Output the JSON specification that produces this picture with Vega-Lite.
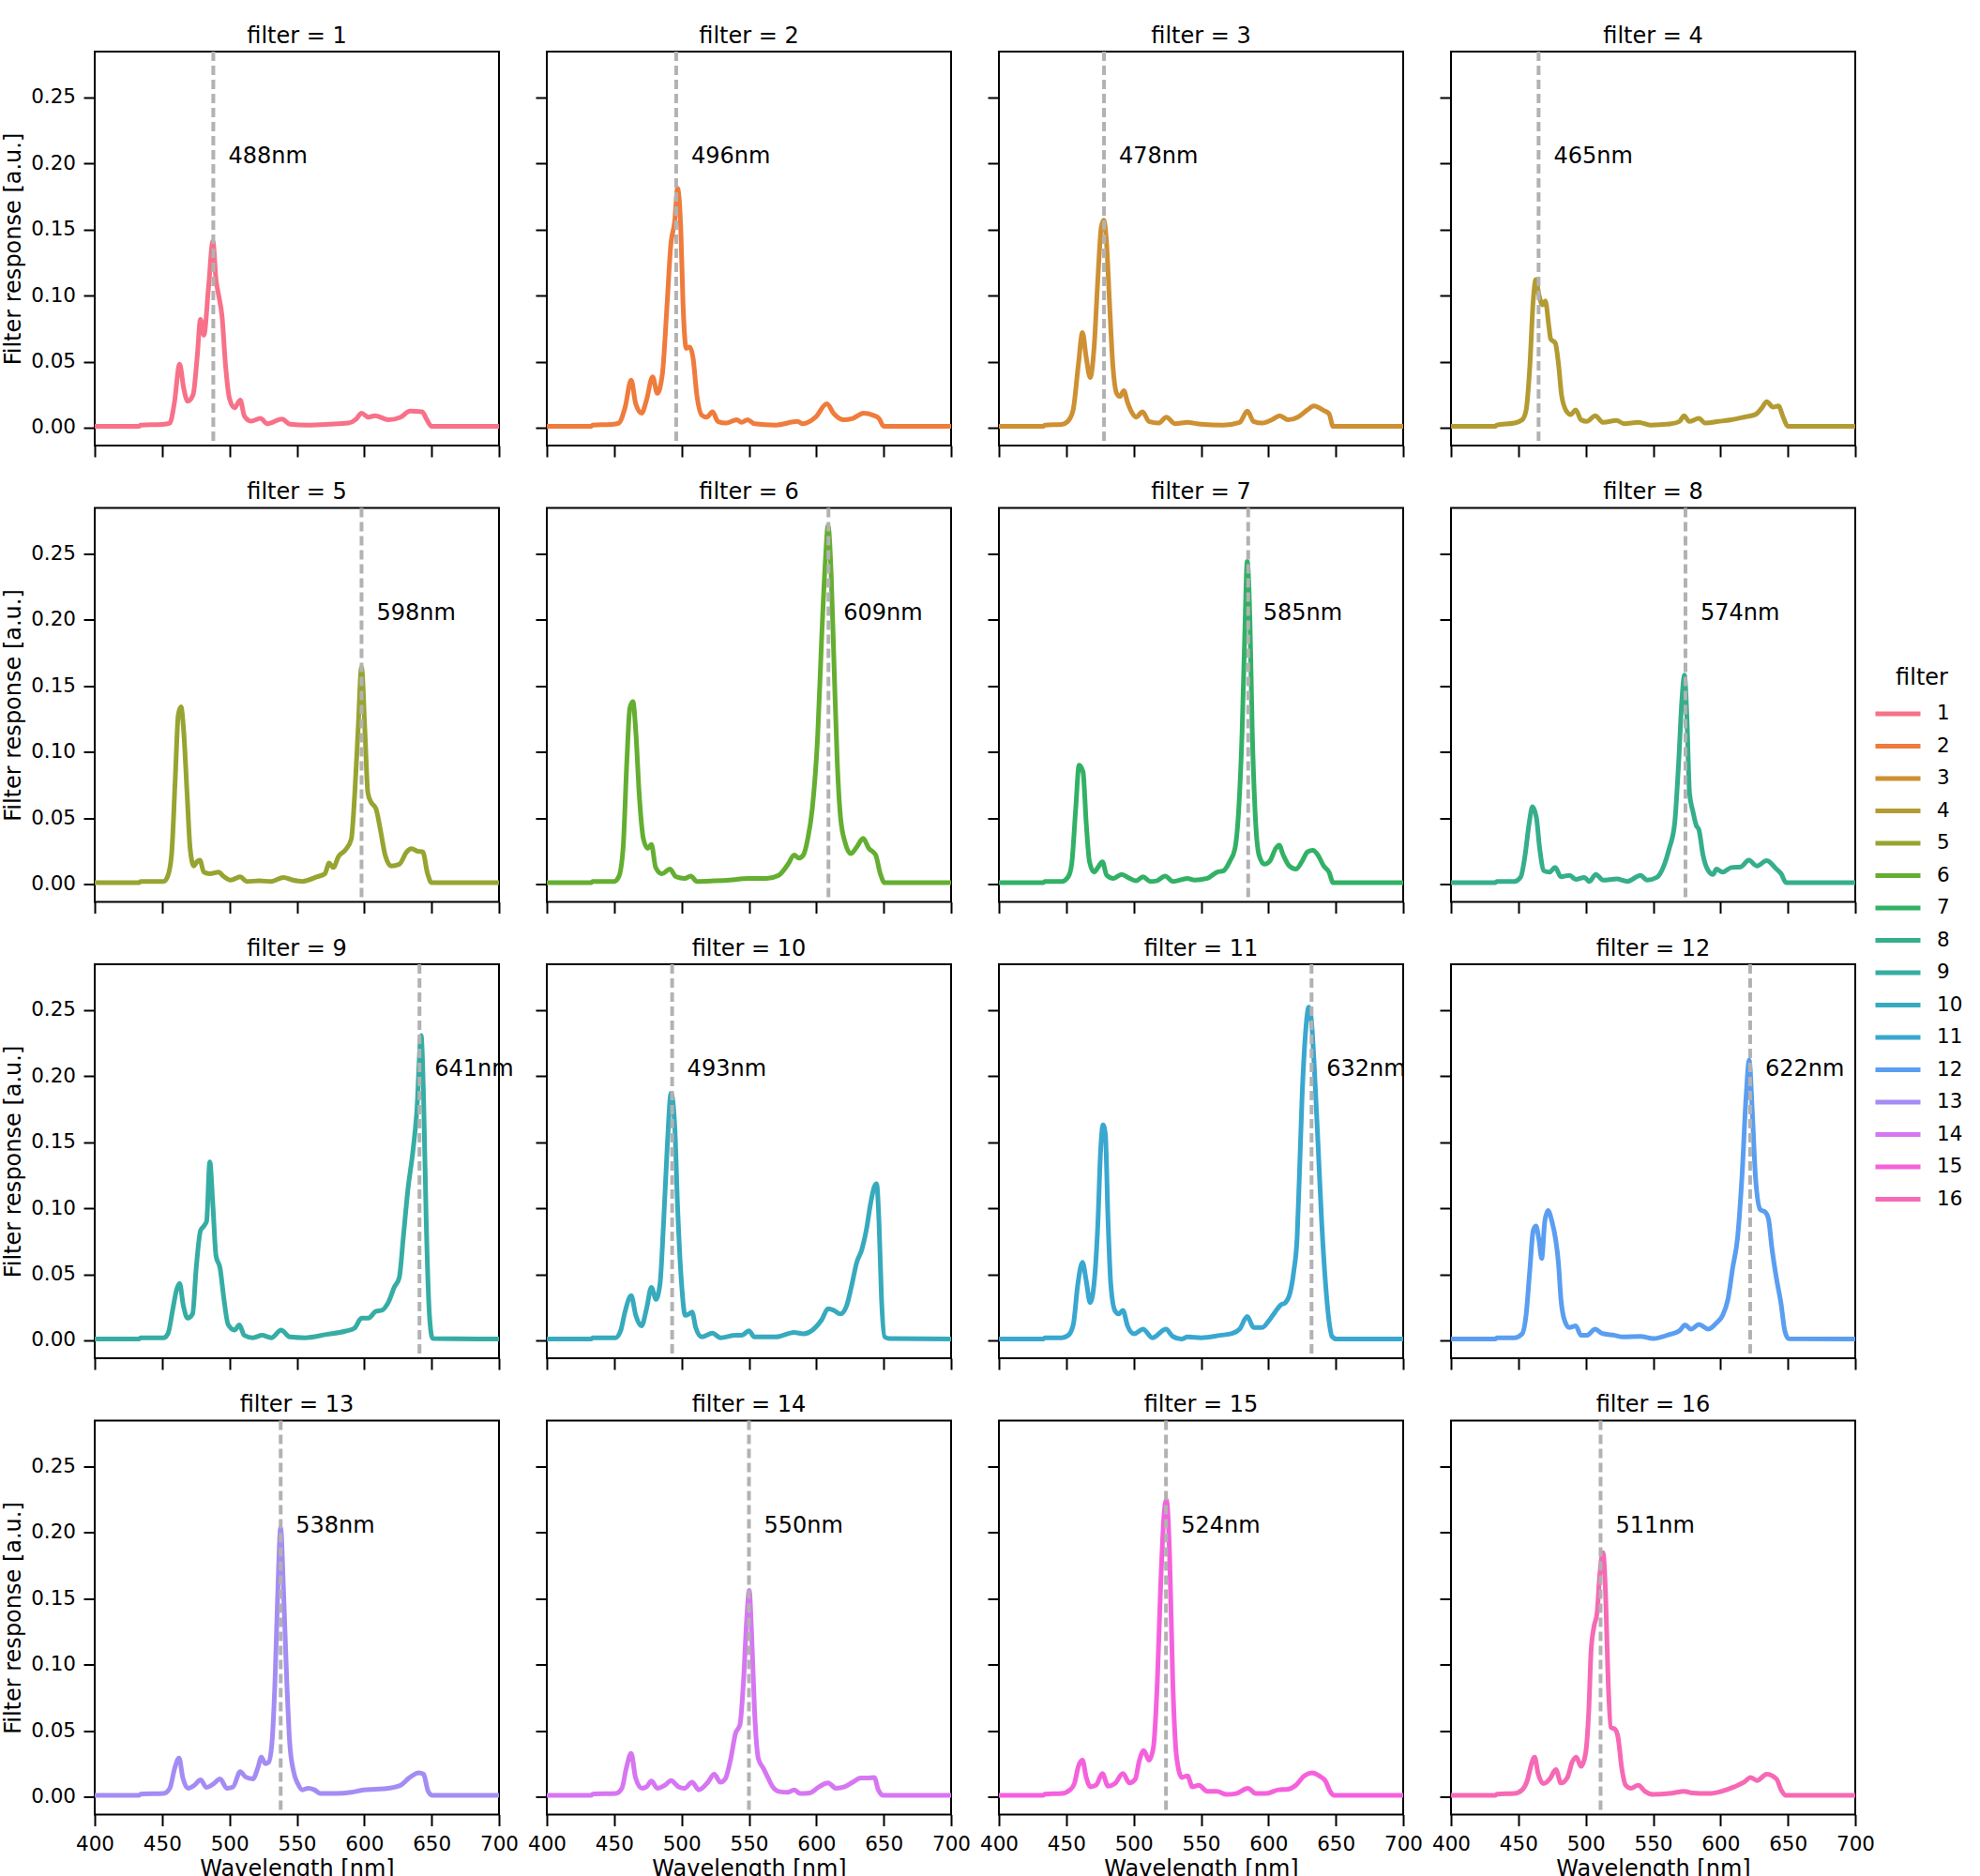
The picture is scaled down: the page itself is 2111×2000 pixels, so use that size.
{
  "$schema": "https://vega.github.io/schema/vega-lite/v6.json",
  "padding": {"left": 1, "top": 25, "right": 5, "bottom": 5},
  "data": {
    "values": [
      {"filter":1,"w":400,"r":0.001},{"filter":1,"w":433,"r":0.001},{"filter":1,"w":434,"r":0.002},{"filter":1,"w":450,"r":0.0025},{"filter":1,"w":455.7,"r":0.0035},{"filter":1,"w":459,"r":0.018},{"filter":1,"w":463,"r":0.048},{"filter":1,"w":466,"r":0.03},{"filter":1,"w":469,"r":0.02},{"filter":1,"w":473,"r":0.025},{"filter":1,"w":476,"r":0.053},{"filter":1,"w":478.5,"r":0.082},{"filter":1,"w":481,"r":0.07},{"filter":1,"w":484.5,"r":0.107},{"filter":1,"w":487.7,"r":0.141},{"filter":1,"w":490,"r":0.112},{"filter":1,"w":492,"r":0.1},{"filter":1,"w":494.5,"r":0.084},{"filter":1,"w":497,"r":0.048},{"filter":1,"w":500,"r":0.022},{"filter":1,"w":503.7,"r":0.015},{"filter":1,"w":508,"r":0.021},{"filter":1,"w":511,"r":0.009},{"filter":1,"w":516,"r":0.005},{"filter":1,"w":523,"r":0.007},{"filter":1,"w":528,"r":0.003},{"filter":1,"w":539,"r":0.0065},{"filter":1,"w":545,"r":0.0026},{"filter":1,"w":558,"r":0.002},{"filter":1,"w":574,"r":0.0026},{"filter":1,"w":588,"r":0.0035},{"filter":1,"w":594,"r":0.0065},{"filter":1,"w":598,"r":0.011},{"filter":1,"w":603,"r":0.008},{"filter":1,"w":608,"r":0.009},{"filter":1,"w":618,"r":0.006},{"filter":1,"w":627,"r":0.008},{"filter":1,"w":634,"r":0.0125},{"filter":1,"w":643,"r":0.012},{"filter":1,"w":646,"r":0.007},{"filter":1,"w":650,"r":0.001},{"filter":1,"w":700,"r":0.001},
      {"filter":2,"w":400,"r":0.001},{"filter":2,"w":433,"r":0.001},{"filter":2,"w":434,"r":0.002},{"filter":2,"w":448,"r":0.0025},{"filter":2,"w":453.4,"r":0.0035},{"filter":2,"w":458,"r":0.015},{"filter":2,"w":462.6,"r":0.036},{"filter":2,"w":466,"r":0.018},{"filter":2,"w":470.3,"r":0.011},{"filter":2,"w":474,"r":0.021},{"filter":2,"w":478.5,"r":0.0385},{"filter":2,"w":482,"r":0.026},{"filter":2,"w":485.8,"r":0.041},{"filter":2,"w":489,"r":0.089},{"filter":2,"w":492,"r":0.138},{"filter":2,"w":495,"r":0.157},{"filter":2,"w":497,"r":0.181},{"filter":2,"w":499.5,"r":0.148},{"filter":2,"w":501,"r":0.096},{"filter":2,"w":503.5,"r":0.06},{"filter":2,"w":506,"r":0.061},{"filter":2,"w":508.5,"r":0.053},{"filter":2,"w":511.3,"r":0.025},{"filter":2,"w":515,"r":0.0095},{"filter":2,"w":518.6,"r":0.008},{"filter":2,"w":523,"r":0.012},{"filter":2,"w":527,"r":0.0047},{"filter":2,"w":533,"r":0.0035},{"filter":2,"w":541,"r":0.006},{"filter":2,"w":544.5,"r":0.004},{"filter":2,"w":549,"r":0.006},{"filter":2,"w":554,"r":0.003},{"filter":2,"w":570,"r":0.002},{"filter":2,"w":586,"r":0.0047},{"filter":2,"w":590,"r":0.003},{"filter":2,"w":599.5,"r":0.008},{"filter":2,"w":607.8,"r":0.018},{"filter":2,"w":613,"r":0.0106},{"filter":2,"w":620,"r":0.006},{"filter":2,"w":627,"r":0.007},{"filter":2,"w":635,"r":0.011},{"filter":2,"w":642,"r":0.0095},{"filter":2,"w":646.5,"r":0.007},{"filter":2,"w":650,"r":0.001},{"filter":2,"w":700,"r":0.001},
      {"filter":3,"w":400,"r":0.001},{"filter":3,"w":433,"r":0.001},{"filter":3,"w":434,"r":0.002},{"filter":3,"w":446.6,"r":0.0025},{"filter":3,"w":451,"r":0.0047},{"filter":3,"w":455,"r":0.013},{"filter":3,"w":459,"r":0.048},{"filter":3,"w":462,"r":0.072},{"filter":3,"w":464.8,"r":0.053},{"filter":3,"w":467.7,"r":0.038},{"filter":3,"w":470.6,"r":0.06},{"filter":3,"w":473.5,"r":0.114},{"filter":3,"w":476,"r":0.152},{"filter":3,"w":477.8,"r":0.157},{"filter":3,"w":480,"r":0.138},{"filter":3,"w":482,"r":0.096},{"filter":3,"w":484.5,"r":0.048},{"filter":3,"w":487.4,"r":0.026},{"filter":3,"w":489.8,"r":0.0236},{"filter":3,"w":492.7,"r":0.028},{"filter":3,"w":495.5,"r":0.019},{"filter":3,"w":498.4,"r":0.012},{"filter":3,"w":501.8,"r":0.008},{"filter":3,"w":506.6,"r":0.012},{"filter":3,"w":511.4,"r":0.0047},{"filter":3,"w":518.6,"r":0.0035},{"filter":3,"w":524.3,"r":0.008},{"filter":3,"w":530.6,"r":0.003},{"filter":3,"w":540,"r":0.004},{"filter":3,"w":550,"r":0.0026},{"filter":3,"w":566.6,"r":0.002},{"filter":3,"w":578.6,"r":0.004},{"filter":3,"w":584.4,"r":0.0125},{"filter":3,"w":589,"r":0.0047},{"filter":3,"w":595.4,"r":0.0035},{"filter":3,"w":602.6,"r":0.006},{"filter":3,"w":608.4,"r":0.009},{"filter":3,"w":614.6,"r":0.006},{"filter":3,"w":621.8,"r":0.008},{"filter":3,"w":629,"r":0.0135},{"filter":3,"w":633.8,"r":0.0165},{"filter":3,"w":641,"r":0.013},{"filter":3,"w":645,"r":0.0106},{"filter":3,"w":648,"r":0.001},{"filter":3,"w":700,"r":0.001},
      {"filter":4,"w":400,"r":0.001},{"filter":4,"w":433,"r":0.001},{"filter":4,"w":434,"r":0.002},{"filter":4,"w":447,"r":0.0035},{"filter":4,"w":452.8,"r":0.006},{"filter":4,"w":455.7,"r":0.013},{"filter":4,"w":458.6,"r":0.048},{"filter":4,"w":461,"r":0.096},{"filter":4,"w":463,"r":0.112},{"filter":4,"w":465.4,"r":0.1},{"filter":4,"w":467.8,"r":0.093},{"filter":4,"w":470,"r":0.096},{"filter":4,"w":472.6,"r":0.077},{"filter":4,"w":474,"r":0.067},{"filter":4,"w":477.4,"r":0.064},{"filter":4,"w":479.8,"r":0.048},{"filter":4,"w":482,"r":0.025},{"filter":4,"w":485.4,"r":0.013},{"filter":4,"w":488.8,"r":0.01},{"filter":4,"w":492.6,"r":0.0135},{"filter":4,"w":496.5,"r":0.006},{"filter":4,"w":500.8,"r":0.0047},{"filter":4,"w":507,"r":0.009},{"filter":4,"w":513,"r":0.004},{"filter":4,"w":522.8,"r":0.0055},{"filter":4,"w":528.5,"r":0.003},{"filter":4,"w":539,"r":0.004},{"filter":4,"w":548,"r":0.002},{"filter":4,"w":562.4,"r":0.0028},{"filter":4,"w":569.5,"r":0.0047},{"filter":4,"w":573,"r":0.009},{"filter":4,"w":576.8,"r":0.0047},{"filter":4,"w":584,"r":0.007},{"filter":4,"w":588.7,"r":0.0035},{"filter":4,"w":598.4,"r":0.0047},{"filter":4,"w":608,"r":0.006},{"filter":4,"w":617.5,"r":0.008},{"filter":4,"w":626,"r":0.01},{"filter":4,"w":630.7,"r":0.015},{"filter":4,"w":634.3,"r":0.0196},{"filter":4,"w":639,"r":0.0156},{"filter":4,"w":643,"r":0.0165},{"filter":4,"w":646.5,"r":0.008},{"filter":4,"w":650,"r":0.001},{"filter":4,"w":700,"r":0.001},
      {"filter":5,"w":400,"r":0.001},{"filter":5,"w":433,"r":0.001},{"filter":5,"w":434,"r":0.002},{"filter":5,"w":451,"r":0.002},{"filter":5,"w":454,"r":0.0055},{"filter":5,"w":457,"r":0.022},{"filter":5,"w":459.8,"r":0.081},{"filter":5,"w":462,"r":0.128},{"filter":5,"w":464,"r":0.134},{"filter":5,"w":466,"r":0.116},{"filter":5,"w":468.5,"r":0.069},{"filter":5,"w":470.8,"r":0.027},{"filter":5,"w":473.5,"r":0.0137},{"filter":5,"w":476,"r":0.017},{"filter":5,"w":478,"r":0.018},{"filter":5,"w":481,"r":0.009},{"filter":5,"w":485.4,"r":0.0078},{"filter":5,"w":492,"r":0.009},{"filter":5,"w":495.4,"r":0.006},{"filter":5,"w":501,"r":0.003},{"filter":5,"w":508,"r":0.0055},{"filter":5,"w":512.8,"r":0.002},{"filter":5,"w":522,"r":0.0024},{"filter":5,"w":531,"r":0.002},{"filter":5,"w":540,"r":0.005},{"filter":5,"w":547,"r":0.003},{"filter":5,"w":554,"r":0.002},{"filter":5,"w":565,"r":0.0055},{"filter":5,"w":570.8,"r":0.0078},{"filter":5,"w":574,"r":0.016},{"filter":5,"w":577,"r":0.0125},{"filter":5,"w":581,"r":0.021},{"filter":5,"w":585.8,"r":0.0255},{"filter":5,"w":590.4,"r":0.034},{"filter":5,"w":593,"r":0.069},{"filter":5,"w":595.4,"r":0.116},{"filter":5,"w":598,"r":0.164},{"filter":5,"w":600.5,"r":0.116},{"filter":5,"w":602.7,"r":0.069},{"filter":5,"w":605,"r":0.062},{"filter":5,"w":608.7,"r":0.057},{"filter":5,"w":612,"r":0.041},{"filter":5,"w":615.5,"r":0.022},{"filter":5,"w":620,"r":0.0137},{"filter":5,"w":626,"r":0.015},{"filter":5,"w":631.5,"r":0.0243},{"filter":5,"w":635,"r":0.0267},{"filter":5,"w":639.7,"r":0.0248},{"filter":5,"w":643.4,"r":0.0243},{"filter":5,"w":647,"r":0.0078},{"filter":5,"w":650,"r":0.001},{"filter":5,"w":700,"r":0.001},
      {"filter":6,"w":400,"r":0.001},{"filter":6,"w":433,"r":0.001},{"filter":6,"w":434,"r":0.002},{"filter":6,"w":450,"r":0.002},{"filter":6,"w":453.4,"r":0.0055},{"filter":6,"w":456.6,"r":0.027},{"filter":6,"w":459.4,"r":0.093},{"filter":6,"w":461.6,"r":0.133},{"filter":6,"w":463.9,"r":0.138},{"filter":6,"w":466,"r":0.116},{"filter":6,"w":468.5,"r":0.069},{"filter":6,"w":471.7,"r":0.034},{"filter":6,"w":474.9,"r":0.027},{"filter":6,"w":477.6,"r":0.03},{"filter":6,"w":480.8,"r":0.0125},{"filter":6,"w":485.4,"r":0.0078},{"filter":6,"w":491.3,"r":0.0113},{"filter":6,"w":495.9,"r":0.0055},{"filter":6,"w":502.3,"r":0.0043},{"filter":6,"w":506.8,"r":0.006},{"filter":6,"w":511.4,"r":0.002},{"filter":6,"w":524,"r":0.0024},{"filter":6,"w":535.6,"r":0.003},{"filter":6,"w":549.3,"r":0.0043},{"filter":6,"w":563,"r":0.0043},{"filter":6,"w":572,"r":0.0066},{"filter":6,"w":579,"r":0.015},{"filter":6,"w":583.6,"r":0.022},{"filter":6,"w":587,"r":0.0196},{"filter":6,"w":590.4,"r":0.022},{"filter":6,"w":593.6,"r":0.034},{"filter":6,"w":597,"r":0.057},{"filter":6,"w":601,"r":0.112},{"filter":6,"w":604,"r":0.187},{"filter":6,"w":606.8,"r":0.246},{"filter":6,"w":608.7,"r":0.271},{"filter":6,"w":611,"r":0.235},{"filter":6,"w":613.2,"r":0.164},{"filter":6,"w":615.5,"r":0.093},{"filter":6,"w":618,"r":0.05},{"filter":6,"w":621.5,"r":0.031},{"filter":6,"w":625.6,"r":0.023},{"filter":6,"w":630,"r":0.028},{"filter":6,"w":634.7,"r":0.0345},{"filter":6,"w":639,"r":0.027},{"filter":6,"w":644,"r":0.022},{"filter":6,"w":647.5,"r":0.0078},{"filter":6,"w":650.7,"r":0.001},{"filter":6,"w":700,"r":0.001},
      {"filter":7,"w":400,"r":0.001},{"filter":7,"w":433,"r":0.001},{"filter":7,"w":434,"r":0.002},{"filter":7,"w":446.6,"r":0.002},{"filter":7,"w":451.4,"r":0.0055},{"filter":7,"w":454,"r":0.015},{"filter":7,"w":457,"r":0.057},{"filter":7,"w":459.5,"r":0.09},{"filter":7,"w":462.4,"r":0.085},{"filter":7,"w":464.8,"r":0.046},{"filter":7,"w":467.2,"r":0.017},{"filter":7,"w":470.6,"r":0.009},{"filter":7,"w":473.4,"r":0.0125},{"filter":7,"w":476.8,"r":0.0168},{"filter":7,"w":480,"r":0.0066},{"filter":7,"w":485,"r":0.0043},{"filter":7,"w":491,"r":0.0073},{"filter":7,"w":497,"r":0.0043},{"filter":7,"w":501.8,"r":0.0024},{"filter":7,"w":507,"r":0.0055},{"filter":7,"w":512.3,"r":0.002},{"filter":7,"w":517,"r":0.0024},{"filter":7,"w":523.4,"r":0.006},{"filter":7,"w":529,"r":0.002},{"filter":7,"w":540,"r":0.0043},{"filter":7,"w":545,"r":0.003},{"filter":7,"w":554.6,"r":0.0043},{"filter":7,"w":561.8,"r":0.009},{"filter":7,"w":566.6,"r":0.01},{"filter":7,"w":571.4,"r":0.0173},{"filter":7,"w":575.2,"r":0.027},{"filter":7,"w":578,"r":0.057},{"filter":7,"w":580.5,"r":0.116},{"filter":7,"w":582.4,"r":0.187},{"filter":7,"w":584.3,"r":0.244},{"filter":7,"w":586.3,"r":0.199},{"filter":7,"w":588,"r":0.116},{"filter":7,"w":590,"r":0.057},{"filter":7,"w":593,"r":0.022},{"filter":7,"w":597,"r":0.015},{"filter":7,"w":601,"r":0.0173},{"filter":7,"w":605.5,"r":0.027},{"filter":7,"w":607.9,"r":0.0295},{"filter":7,"w":611,"r":0.022},{"filter":7,"w":615.5,"r":0.0137},{"filter":7,"w":620.4,"r":0.0113},{"filter":7,"w":625,"r":0.0173},{"filter":7,"w":629,"r":0.0243},{"filter":7,"w":633,"r":0.0255},{"filter":7,"w":636.7,"r":0.022},{"filter":7,"w":641,"r":0.0137},{"filter":7,"w":645,"r":0.009},{"filter":7,"w":648,"r":0.001},{"filter":7,"w":700,"r":0.001},
      {"filter":8,"w":400,"r":0.001},{"filter":8,"w":433,"r":0.001},{"filter":8,"w":434,"r":0.002},{"filter":8,"w":447,"r":0.002},{"filter":8,"w":451.8,"r":0.0055},{"filter":8,"w":455,"r":0.022},{"filter":8,"w":458,"r":0.046},{"filter":8,"w":460.5,"r":0.0586},{"filter":8,"w":463.4,"r":0.05},{"filter":8,"w":465.8,"r":0.027},{"filter":8,"w":469,"r":0.01},{"filter":8,"w":473,"r":0.009},{"filter":8,"w":477.3,"r":0.0125},{"filter":8,"w":481.6,"r":0.0055},{"filter":8,"w":488,"r":0.0066},{"filter":8,"w":492.6,"r":0.0035},{"filter":8,"w":499,"r":0.005},{"filter":8,"w":502.7,"r":0.002},{"filter":8,"w":507.5,"r":0.0073},{"filter":8,"w":512.8,"r":0.003},{"filter":8,"w":523,"r":0.0038},{"filter":8,"w":531,"r":0.002},{"filter":8,"w":540.6,"r":0.0066},{"filter":8,"w":545.5,"r":0.003},{"filter":8,"w":552.7,"r":0.005},{"filter":8,"w":558.4,"r":0.015},{"filter":8,"w":562,"r":0.027},{"filter":8,"w":566,"r":0.046},{"filter":8,"w":569,"r":0.093},{"filter":8,"w":571.4,"r":0.14},{"filter":8,"w":573.3,"r":0.158},{"filter":8,"w":575,"r":0.128},{"filter":8,"w":577,"r":0.069},{"filter":8,"w":579.5,"r":0.055},{"filter":8,"w":582,"r":0.0444},{"filter":8,"w":584,"r":0.041},{"filter":8,"w":587,"r":0.022},{"filter":8,"w":591,"r":0.01},{"filter":8,"w":594.4,"r":0.0073},{"filter":8,"w":597,"r":0.0113},{"filter":8,"w":601.6,"r":0.009},{"filter":8,"w":608,"r":0.0125},{"filter":8,"w":615,"r":0.013},{"filter":8,"w":621,"r":0.018},{"filter":8,"w":627,"r":0.0137},{"filter":8,"w":634.3,"r":0.0177},{"filter":8,"w":641.5,"r":0.0113},{"filter":8,"w":645,"r":0.0078},{"filter":8,"w":648.7,"r":0.001},{"filter":8,"w":700,"r":0.001},
      {"filter":9,"w":400,"r":0.001},{"filter":9,"w":433,"r":0.001},{"filter":9,"w":434,"r":0.002},{"filter":9,"w":451,"r":0.002},{"filter":9,"w":454.3,"r":0.005},{"filter":9,"w":458,"r":0.024},{"filter":9,"w":460.7,"r":0.038},{"filter":9,"w":463,"r":0.043},{"filter":9,"w":465.8,"r":0.026},{"filter":9,"w":469,"r":0.0168},{"filter":9,"w":472.6,"r":0.02},{"filter":9,"w":475.3,"r":0.0546},{"filter":9,"w":478.5,"r":0.083},{"filter":9,"w":481,"r":0.0865},{"filter":9,"w":483,"r":0.09},{"filter":9,"w":485.4,"r":0.135},{"filter":9,"w":487.7,"r":0.102},{"filter":9,"w":490,"r":0.064},{"filter":9,"w":493,"r":0.0546},{"filter":9,"w":495.9,"r":0.031},{"filter":9,"w":499,"r":0.012},{"filter":9,"w":503.7,"r":0.0078},{"filter":9,"w":507.3,"r":0.0116},{"filter":9,"w":511,"r":0.0038},{"filter":9,"w":517.4,"r":0.002},{"filter":9,"w":524.2,"r":0.0038},{"filter":9,"w":531,"r":0.002},{"filter":9,"w":538.4,"r":0.0078},{"filter":9,"w":544.7,"r":0.0026},{"filter":9,"w":556,"r":0.002},{"filter":9,"w":572,"r":0.0045},{"filter":9,"w":585.8,"r":0.0069},{"filter":9,"w":592.7,"r":0.0092},{"filter":9,"w":598,"r":0.0168},{"filter":9,"w":603,"r":0.0168},{"filter":9,"w":608.7,"r":0.022},{"filter":9,"w":613,"r":0.0227},{"filter":9,"w":617.8,"r":0.0286},{"filter":9,"w":622.4,"r":0.0404},{"filter":9,"w":626,"r":0.0475},{"filter":9,"w":629,"r":0.078},{"filter":9,"w":632.4,"r":0.114},{"filter":9,"w":636,"r":0.142},{"filter":9,"w":639,"r":0.173},{"filter":9,"w":642.2,"r":0.2306},{"filter":9,"w":644,"r":0.185},{"filter":9,"w":646,"r":0.09},{"filter":9,"w":648.4,"r":0.019},{"filter":9,"w":650.7,"r":0.0014},{"filter":9,"w":700,"r":0.001},
      {"filter":10,"w":400,"r":0.001},{"filter":10,"w":433,"r":0.001},{"filter":10,"w":434,"r":0.002},{"filter":10,"w":451,"r":0.002},{"filter":10,"w":454.8,"r":0.0073},{"filter":10,"w":458,"r":0.0215},{"filter":10,"w":462.6,"r":0.0338},{"filter":10,"w":466,"r":0.019},{"filter":10,"w":470.3,"r":0.0109},{"filter":10,"w":474,"r":0.0239},{"filter":10,"w":477.6,"r":0.04},{"filter":10,"w":481,"r":0.031},{"filter":10,"w":484,"r":0.0428},{"filter":10,"w":486.7,"r":0.09},{"filter":10,"w":489.5,"r":0.149},{"filter":10,"w":492.2,"r":0.187},{"filter":10,"w":495,"r":0.161},{"filter":10,"w":497,"r":0.102},{"filter":10,"w":500,"r":0.0428},{"filter":10,"w":502.7,"r":0.019},{"filter":10,"w":505.5,"r":0.02},{"filter":10,"w":507.8,"r":0.0215},{"filter":10,"w":510.5,"r":0.0097},{"filter":10,"w":515,"r":0.0026},{"filter":10,"w":523,"r":0.0054},{"filter":10,"w":528.8,"r":0.002},{"filter":10,"w":540,"r":0.0038},{"filter":10,"w":544.7,"r":0.0038},{"filter":10,"w":550,"r":0.0073},{"filter":10,"w":554,"r":0.0026},{"filter":10,"w":570,"r":0.0026},{"filter":10,"w":583.5,"r":0.006},{"filter":10,"w":590.4,"r":0.005},{"filter":10,"w":598,"r":0.0085},{"filter":10,"w":604,"r":0.0156},{"filter":10,"w":608.7,"r":0.0239},{"filter":10,"w":613,"r":0.0227},{"filter":10,"w":617.8,"r":0.02},{"filter":10,"w":622.4,"r":0.026},{"filter":10,"w":626,"r":0.0404},{"filter":10,"w":630,"r":0.059},{"filter":10,"w":633.8,"r":0.0688},{"filter":10,"w":637.4,"r":0.085},{"filter":10,"w":640,"r":0.102},{"filter":10,"w":643,"r":0.116},{"filter":10,"w":644.7,"r":0.1184},{"filter":10,"w":646.5,"r":0.09},{"filter":10,"w":648.4,"r":0.031},{"filter":10,"w":650.7,"r":0.0026},{"filter":10,"w":654,"r":0.0014},{"filter":10,"w":700,"r":0.001},
      {"filter":11,"w":400,"r":0.001},{"filter":11,"w":433,"r":0.001},{"filter":11,"w":434,"r":0.002},{"filter":11,"w":446.6,"r":0.002},{"filter":11,"w":451.4,"r":0.0038},{"filter":11,"w":455.2,"r":0.012},{"filter":11,"w":458.6,"r":0.0428},{"filter":11,"w":462,"r":0.059},{"filter":11,"w":464.8,"r":0.045},{"filter":11,"w":467.7,"r":0.0286},{"filter":11,"w":470.6,"r":0.0428},{"filter":11,"w":473.5,"r":0.09},{"filter":11,"w":475.4,"r":0.142},{"filter":11,"w":477.3,"r":0.163},{"filter":11,"w":479,"r":0.156},{"filter":11,"w":481,"r":0.09},{"filter":11,"w":483,"r":0.0428},{"filter":11,"w":486,"r":0.0227},{"filter":11,"w":488.8,"r":0.02},{"filter":11,"w":492,"r":0.0227},{"filter":11,"w":495.5,"r":0.0109},{"filter":11,"w":500.3,"r":0.005},{"filter":11,"w":507,"r":0.0085},{"filter":11,"w":513.8,"r":0.002},{"filter":11,"w":524,"r":0.0085},{"filter":11,"w":529,"r":0.003},{"filter":11,"w":535.4,"r":0.001},{"filter":11,"w":540,"r":0.0026},{"filter":11,"w":550,"r":0.002},{"filter":11,"w":564,"r":0.0038},{"filter":11,"w":573.5,"r":0.0054},{"filter":11,"w":578.6,"r":0.0085},{"filter":11,"w":584.3,"r":0.018},{"filter":11,"w":589,"r":0.0097},{"filter":11,"w":595.4,"r":0.0097},{"filter":11,"w":600,"r":0.0144},{"filter":11,"w":605,"r":0.0215},{"filter":11,"w":609,"r":0.0267},{"filter":11,"w":612.6,"r":0.0286},{"filter":11,"w":616,"r":0.0357},{"filter":11,"w":618.8,"r":0.052},{"filter":11,"w":621.3,"r":0.078},{"filter":11,"w":623,"r":0.125},{"filter":11,"w":625,"r":0.1845},{"filter":11,"w":627.5,"r":0.232},{"filter":11,"w":630,"r":0.252},{"filter":11,"w":632,"r":0.241},{"filter":11,"w":634,"r":0.208},{"filter":11,"w":636.8,"r":0.149},{"filter":11,"w":639.5,"r":0.09},{"filter":11,"w":642.4,"r":0.0428},{"filter":11,"w":645,"r":0.0144},{"filter":11,"w":647.2,"r":0.003},{"filter":11,"w":650.6,"r":0.001},{"filter":11,"w":700,"r":0.001},
      {"filter":12,"w":400,"r":0.001},{"filter":12,"w":433,"r":0.001},{"filter":12,"w":434,"r":0.002},{"filter":12,"w":447,"r":0.002},{"filter":12,"w":452.8,"r":0.005},{"filter":12,"w":455.7,"r":0.019},{"filter":12,"w":458.6,"r":0.0546},{"filter":12,"w":461,"r":0.083},{"filter":12,"w":463,"r":0.0865},{"filter":12,"w":465.3,"r":0.076},{"filter":12,"w":467.3,"r":0.062},{"filter":12,"w":469.6,"r":0.09},{"filter":12,"w":472,"r":0.0983},{"filter":12,"w":474.9,"r":0.09},{"filter":12,"w":477.7,"r":0.076},{"filter":12,"w":479.7,"r":0.059},{"filter":12,"w":481.6,"r":0.031},{"filter":12,"w":484.5,"r":0.0144},{"filter":12,"w":487.8,"r":0.0097},{"filter":12,"w":492.6,"r":0.0109},{"filter":12,"w":496.5,"r":0.0038},{"filter":12,"w":500.8,"r":0.0038},{"filter":12,"w":507,"r":0.0085},{"filter":12,"w":511.8,"r":0.0054},{"filter":12,"w":521.4,"r":0.0038},{"filter":12,"w":527.6,"r":0.0026},{"filter":12,"w":540.6,"r":0.003},{"filter":12,"w":550.2,"r":0.0014},{"filter":12,"w":562.2,"r":0.0045},{"filter":12,"w":569.5,"r":0.0073},{"filter":12,"w":573.8,"r":0.0116},{"filter":12,"w":578,"r":0.0085},{"filter":12,"w":584,"r":0.012},{"filter":12,"w":591,"r":0.0085},{"filter":12,"w":597,"r":0.0132},{"filter":12,"w":601.6,"r":0.019},{"filter":12,"w":605.5,"r":0.031},{"filter":12,"w":609,"r":0.0546},{"filter":12,"w":612.7,"r":0.078},{"filter":12,"w":616,"r":0.125},{"filter":12,"w":619,"r":0.1845},{"filter":12,"w":621.3,"r":0.212},{"filter":12,"w":623.6,"r":0.173},{"filter":12,"w":626,"r":0.123},{"filter":12,"w":629.5,"r":0.099},{"filter":12,"w":633.3,"r":0.097},{"filter":12,"w":635.6,"r":0.092},{"filter":12,"w":638,"r":0.071},{"filter":12,"w":641.4,"r":0.0475},{"filter":12,"w":644.8,"r":0.0286},{"filter":12,"w":647.7,"r":0.0073},{"filter":12,"w":650.6,"r":0.0012},{"filter":12,"w":700,"r":0.001},
      {"filter":13,"w":400,"r":0.001},{"filter":13,"w":433,"r":0.001},{"filter":13,"w":434,"r":0.002},{"filter":13,"w":451,"r":0.0024},{"filter":13,"w":455.7,"r":0.0064},{"filter":13,"w":459.4,"r":0.0217},{"filter":13,"w":462.6,"r":0.0293},{"filter":13,"w":465.3,"r":0.0146},{"filter":13,"w":469.4,"r":0.0064},{"filter":13,"w":474,"r":0.0087},{"filter":13,"w":478.5,"r":0.0127},{"filter":13,"w":483,"r":0.007},{"filter":13,"w":487.7,"r":0.0094},{"filter":13,"w":493,"r":0.0135},{"filter":13,"w":498,"r":0.0064},{"filter":13,"w":502.7,"r":0.0075},{"filter":13,"w":508,"r":0.019},{"filter":13,"w":511.9,"r":0.015},{"filter":13,"w":517.4,"r":0.0135},{"filter":13,"w":521,"r":0.0217},{"filter":13,"w":523.7,"r":0.03},{"filter":13,"w":526.5,"r":0.025},{"filter":13,"w":529,"r":0.026},{"filter":13,"w":531.5,"r":0.0406},{"filter":13,"w":533.8,"r":0.088},{"filter":13,"w":535.6,"r":0.147},{"filter":13,"w":538,"r":0.2035},{"filter":13,"w":540,"r":0.159},{"filter":13,"w":542.5,"r":0.088},{"filter":13,"w":544.7,"r":0.0406},{"filter":13,"w":547.5,"r":0.0194},{"filter":13,"w":550.7,"r":0.0099},{"filter":13,"w":554,"r":0.0052},{"filter":13,"w":558.4,"r":0.0064},{"filter":13,"w":563,"r":0.0052},{"filter":13,"w":567.6,"r":0.0024},{"filter":13,"w":579,"r":0.0024},{"filter":13,"w":590.4,"r":0.0033},{"filter":13,"w":599.5,"r":0.0052},{"filter":13,"w":608.7,"r":0.0057},{"filter":13,"w":617.8,"r":0.0064},{"filter":13,"w":627,"r":0.0087},{"filter":13,"w":633.8,"r":0.0146},{"filter":13,"w":640.6,"r":0.018},{"filter":13,"w":644,"r":0.017},{"filter":13,"w":647.5,"r":0.004},{"filter":13,"w":650.7,"r":0.001},{"filter":13,"w":700,"r":0.001},
      {"filter":14,"w":400,"r":0.001},{"filter":14,"w":433,"r":0.001},{"filter":14,"w":434,"r":0.002},{"filter":14,"w":451,"r":0.0024},{"filter":14,"w":455.7,"r":0.0064},{"filter":14,"w":459,"r":0.0217},{"filter":14,"w":462.6,"r":0.0328},{"filter":14,"w":465.8,"r":0.0146},{"filter":14,"w":470.8,"r":0.0064},{"filter":14,"w":474,"r":0.0075},{"filter":14,"w":477.6,"r":0.0118},{"filter":14,"w":482,"r":0.0064},{"filter":14,"w":487.7,"r":0.0087},{"filter":14,"w":492.2,"r":0.0123},{"filter":14,"w":497.7,"r":0.0075},{"filter":14,"w":502.3,"r":0.0064},{"filter":14,"w":507.8,"r":0.011},{"filter":14,"w":512.8,"r":0.0052},{"filter":14,"w":519.6,"r":0.011},{"filter":14,"w":524.2,"r":0.017},{"filter":14,"w":528.8,"r":0.011},{"filter":14,"w":532.4,"r":0.0135},{"filter":14,"w":536.5,"r":0.0288},{"filter":14,"w":540,"r":0.0477},{"filter":14,"w":543.4,"r":0.0548},{"filter":14,"w":546,"r":0.088},{"filter":14,"w":548.4,"r":0.135},{"filter":14,"w":550.2,"r":0.156},{"filter":14,"w":552,"r":0.123},{"filter":14,"w":554.2,"r":0.064},{"filter":14,"w":557,"r":0.0288},{"filter":14,"w":560.6,"r":0.0217},{"filter":14,"w":564,"r":0.0146},{"filter":14,"w":567.6,"r":0.0075},{"filter":14,"w":572,"r":0.004},{"filter":14,"w":579,"r":0.0033},{"filter":14,"w":583.6,"r":0.0052},{"filter":14,"w":588,"r":0.0024},{"filter":14,"w":595,"r":0.0028},{"filter":14,"w":602,"r":0.0075},{"filter":14,"w":608.7,"r":0.0104},{"filter":14,"w":614.6,"r":0.0064},{"filter":14,"w":621,"r":0.0075},{"filter":14,"w":627,"r":0.011},{"filter":14,"w":633,"r":0.0142},{"filter":14,"w":638,"r":0.0142},{"filter":14,"w":643,"r":0.0146},{"filter":14,"w":646,"r":0.0052},{"filter":14,"w":649.8,"r":0.001},{"filter":14,"w":700,"r":0.001},
      {"filter":15,"w":400,"r":0.001},{"filter":15,"w":433,"r":0.001},{"filter":15,"w":434,"r":0.002},{"filter":15,"w":446.6,"r":0.0024},{"filter":15,"w":452.8,"r":0.0052},{"filter":15,"w":456,"r":0.0099},{"filter":15,"w":459,"r":0.023},{"filter":15,"w":462,"r":0.0276},{"filter":15,"w":464.8,"r":0.0146},{"filter":15,"w":468,"r":0.0075},{"filter":15,"w":472,"r":0.0087},{"filter":15,"w":476.8,"r":0.0175},{"filter":15,"w":481,"r":0.008},{"filter":15,"w":486,"r":0.0099},{"filter":15,"w":492,"r":0.0175},{"filter":15,"w":497,"r":0.0104},{"filter":15,"w":501.3,"r":0.0135},{"filter":15,"w":504,"r":0.0264},{"filter":15,"w":507.5,"r":0.035},{"filter":15,"w":511.4,"r":0.0276},{"filter":15,"w":514.6,"r":0.037},{"filter":15,"w":517.6,"r":0.088},{"filter":15,"w":520,"r":0.159},{"filter":15,"w":522.4,"r":0.211},{"filter":15,"w":524.3,"r":0.2247},{"filter":15,"w":526.7,"r":0.182},{"filter":15,"w":529,"r":0.088},{"filter":15,"w":532,"r":0.0288},{"filter":15,"w":535.8,"r":0.0146},{"filter":15,"w":540,"r":0.0158},{"filter":15,"w":543.5,"r":0.0075},{"filter":15,"w":548.3,"r":0.0087},{"filter":15,"w":554.6,"r":0.004},{"filter":15,"w":561.8,"r":0.004},{"filter":15,"w":569,"r":0.0017},{"filter":15,"w":576,"r":0.0024},{"filter":15,"w":584.8,"r":0.0064},{"filter":15,"w":590.6,"r":0.0024},{"filter":15,"w":597.8,"r":0.0024},{"filter":15,"w":607.4,"r":0.0052},{"filter":15,"w":614.6,"r":0.0057},{"filter":15,"w":620.4,"r":0.0087},{"filter":15,"w":626.6,"r":0.0158},{"filter":15,"w":632.4,"r":0.018},{"filter":15,"w":637.6,"r":0.0158},{"filter":15,"w":642.4,"r":0.0118},{"filter":15,"w":645.8,"r":0.004},{"filter":15,"w":649,"r":0.001},{"filter":15,"w":700,"r":0.001},
      {"filter":16,"w":400,"r":0.001},{"filter":16,"w":433,"r":0.001},{"filter":16,"w":434,"r":0.002},{"filter":16,"w":447,"r":0.0024},{"filter":16,"w":452.8,"r":0.0052},{"filter":16,"w":456.6,"r":0.0123},{"filter":16,"w":459.5,"r":0.024},{"filter":16,"w":462,"r":0.03},{"filter":16,"w":464.8,"r":0.017},{"filter":16,"w":468.6,"r":0.0099},{"filter":16,"w":473.4,"r":0.0135},{"filter":16,"w":477.8,"r":0.0205},{"filter":16,"w":481.6,"r":0.0104},{"filter":16,"w":486.4,"r":0.0146},{"filter":16,"w":490,"r":0.0264},{"filter":16,"w":493,"r":0.03},{"filter":16,"w":496.5,"r":0.023},{"filter":16,"w":499.8,"r":0.0323},{"filter":16,"w":502.2,"r":0.064},{"filter":16,"w":504,"r":0.111},{"filter":16,"w":506,"r":0.128},{"filter":16,"w":508.5,"r":0.14},{"filter":16,"w":510.4,"r":0.168},{"filter":16,"w":512.8,"r":0.1846},{"filter":16,"w":514.7,"r":0.154},{"filter":16,"w":516.6,"r":0.088},{"filter":16,"w":518.6,"r":0.0524},{"filter":16,"w":521.5,"r":0.0512},{"filter":16,"w":523.9,"r":0.0453},{"filter":16,"w":526.7,"r":0.0217},{"filter":16,"w":529.6,"r":0.0087},{"filter":16,"w":533.4,"r":0.0064},{"filter":16,"w":539,"r":0.0087},{"filter":16,"w":544,"r":0.004},{"filter":16,"w":550,"r":0.0017},{"filter":16,"w":562,"r":0.0024},{"filter":16,"w":573.3,"r":0.004},{"filter":16,"w":579,"r":0.0028},{"filter":16,"w":591,"r":0.0024},{"filter":16,"w":600.5,"r":0.004},{"filter":16,"w":610.3,"r":0.0075},{"filter":16,"w":617.5,"r":0.011},{"filter":16,"w":622.3,"r":0.0146},{"filter":16,"w":627,"r":0.0123},{"filter":16,"w":634.3,"r":0.017},{"filter":16,"w":641.5,"r":0.0135},{"filter":16,"w":645,"r":0.0052},{"filter":16,"w":648.7,"r":0.001},{"filter":16,"w":700,"r":0.001},
      {"filter":1,"peak":488,"label":"488nm"},{"filter":2,"peak":496,"label":"496nm"},{"filter":3,"peak":478,"label":"478nm"},{"filter":4,"peak":465,"label":"465nm"},
      {"filter":5,"peak":598,"label":"598nm"},{"filter":6,"peak":609,"label":"609nm"},{"filter":7,"peak":585,"label":"585nm"},{"filter":8,"peak":574,"label":"574nm"},
      {"filter":9,"peak":641,"label":"641nm"},{"filter":10,"peak":493,"label":"493nm"},{"filter":11,"peak":632,"label":"632nm"},{"filter":12,"peak":622,"label":"622nm"},
      {"filter":13,"peak":538,"label":"538nm"},{"filter":14,"peak":550,"label":"550nm"},{"filter":15,"peak":524,"label":"524nm"},{"filter":16,"peak":511,"label":"511nm"}
    ]
  },
  "columns": 4,
  "spacing": {"row": 66.5, "column": 51},
  "bounds": "flush",
  "concat": [
    {"title": "filter = 1", "transform": [{"filter": "datum.filter == 1"}], "layer": [
      {"transform": [{"filter": "isValid(datum.w)"}], "mark": "line", "encoding": {
        "x": {"field": "w", "type": "quantitative", "scale": {"domain": [400, 700], "nice": false, "zero": false}, "axis": {"values": [400, 450, 500, 550, 600, 650, 700], "labels": false, "title": null}},
        "y": {"field": "r", "type": "quantitative", "scale": {"domain": [-0.0135, 0.2845], "nice": false, "zero": false}, "axis": {"values": [0, 0.05, 0.1, 0.15, 0.2, 0.25], "format": ".2f", "title": "Filter response [a.u.]"}},
        "color": {"field": "filter", "type": "nominal", "scale": {"domain": [1,2,3,4,5,6,7,8,9,10,11,12,13,14,15,16], "range": ["#f77189","#ef7b3c","#ce9032","#b39b32","#97a431","#64ae31","#32b166","#35ae8b","#36ada4","#37aabd","#39a7d0","#5a9ef1","#a48cf4","#d676f3","#f561dd","#f669b5"]}, "legend": {"title": "filter"}}}},
      {"transform": [{"filter": "isValid(datum.peak)"}], "mark": "rule", "encoding": {"x": {"field": "peak", "type": "quantitative"}}},
      {"transform": [{"filter": "isValid(datum.peak)"}], "mark": "text", "encoding": {"x": {"field": "peak", "type": "quantitative"}, "y": {"datum": 0.2}, "text": {"field": "label"}}}
    ]},
    {"title": "filter = 2", "transform": [{"filter": "datum.filter == 2"}], "layer": [
      {"transform": [{"filter": "isValid(datum.w)"}], "mark": "line", "encoding": {
        "x": {"field": "w", "type": "quantitative", "scale": {"domain": [400, 700], "nice": false, "zero": false}, "axis": {"values": [400, 450, 500, 550, 600, 650, 700], "labels": false, "title": null}},
        "y": {"field": "r", "type": "quantitative", "scale": {"domain": [-0.0135, 0.2845], "nice": false, "zero": false}, "axis": {"values": [0, 0.05, 0.1, 0.15, 0.2, 0.25], "labels": false, "title": null}},
        "color": {"field": "filter", "type": "nominal", "legend": {"title": "filter"}}}},
      {"transform": [{"filter": "isValid(datum.peak)"}], "mark": "rule", "encoding": {"x": {"field": "peak", "type": "quantitative"}}},
      {"transform": [{"filter": "isValid(datum.peak)"}], "mark": "text", "encoding": {"x": {"field": "peak", "type": "quantitative"}, "y": {"datum": 0.2}, "text": {"field": "label"}}}
    ]},
    {"title": "filter = 3", "transform": [{"filter": "datum.filter == 3"}], "layer": [
      {"transform": [{"filter": "isValid(datum.w)"}], "mark": "line", "encoding": {
        "x": {"field": "w", "type": "quantitative", "scale": {"domain": [400, 700], "nice": false, "zero": false}, "axis": {"values": [400, 450, 500, 550, 600, 650, 700], "labels": false, "title": null}},
        "y": {"field": "r", "type": "quantitative", "scale": {"domain": [-0.0135, 0.2845], "nice": false, "zero": false}, "axis": {"values": [0, 0.05, 0.1, 0.15, 0.2, 0.25], "labels": false, "title": null}},
        "color": {"field": "filter", "type": "nominal", "legend": {"title": "filter"}}}},
      {"transform": [{"filter": "isValid(datum.peak)"}], "mark": "rule", "encoding": {"x": {"field": "peak", "type": "quantitative"}}},
      {"transform": [{"filter": "isValid(datum.peak)"}], "mark": "text", "encoding": {"x": {"field": "peak", "type": "quantitative"}, "y": {"datum": 0.2}, "text": {"field": "label"}}}
    ]},
    {"title": "filter = 4", "transform": [{"filter": "datum.filter == 4"}], "layer": [
      {"transform": [{"filter": "isValid(datum.w)"}], "mark": "line", "encoding": {
        "x": {"field": "w", "type": "quantitative", "scale": {"domain": [400, 700], "nice": false, "zero": false}, "axis": {"values": [400, 450, 500, 550, 600, 650, 700], "labels": false, "title": null}},
        "y": {"field": "r", "type": "quantitative", "scale": {"domain": [-0.0135, 0.2845], "nice": false, "zero": false}, "axis": {"values": [0, 0.05, 0.1, 0.15, 0.2, 0.25], "labels": false, "title": null}},
        "color": {"field": "filter", "type": "nominal", "legend": {"title": "filter"}}}},
      {"transform": [{"filter": "isValid(datum.peak)"}], "mark": "rule", "encoding": {"x": {"field": "peak", "type": "quantitative"}}},
      {"transform": [{"filter": "isValid(datum.peak)"}], "mark": "text", "encoding": {"x": {"field": "peak", "type": "quantitative"}, "y": {"datum": 0.2}, "text": {"field": "label"}}}
    ]},
    {"title": "filter = 5", "transform": [{"filter": "datum.filter == 5"}], "layer": [
      {"transform": [{"filter": "isValid(datum.w)"}], "mark": "line", "encoding": {
        "x": {"field": "w", "type": "quantitative", "scale": {"domain": [400, 700], "nice": false, "zero": false}, "axis": {"values": [400, 450, 500, 550, 600, 650, 700], "labels": false, "title": null}},
        "y": {"field": "r", "type": "quantitative", "scale": {"domain": [-0.0135, 0.2845], "nice": false, "zero": false}, "axis": {"values": [0, 0.05, 0.1, 0.15, 0.2, 0.25], "format": ".2f", "title": "Filter response [a.u.]"}},
        "color": {"field": "filter", "type": "nominal", "legend": {"title": "filter"}}}},
      {"transform": [{"filter": "isValid(datum.peak)"}], "mark": "rule", "encoding": {"x": {"field": "peak", "type": "quantitative"}}},
      {"transform": [{"filter": "isValid(datum.peak)"}], "mark": "text", "encoding": {"x": {"field": "peak", "type": "quantitative"}, "y": {"datum": 0.2}, "text": {"field": "label"}}}
    ]},
    {"title": "filter = 6", "transform": [{"filter": "datum.filter == 6"}], "layer": [
      {"transform": [{"filter": "isValid(datum.w)"}], "mark": "line", "encoding": {
        "x": {"field": "w", "type": "quantitative", "scale": {"domain": [400, 700], "nice": false, "zero": false}, "axis": {"values": [400, 450, 500, 550, 600, 650, 700], "labels": false, "title": null}},
        "y": {"field": "r", "type": "quantitative", "scale": {"domain": [-0.0135, 0.2845], "nice": false, "zero": false}, "axis": {"values": [0, 0.05, 0.1, 0.15, 0.2, 0.25], "labels": false, "title": null}},
        "color": {"field": "filter", "type": "nominal", "legend": {"title": "filter"}}}},
      {"transform": [{"filter": "isValid(datum.peak)"}], "mark": "rule", "encoding": {"x": {"field": "peak", "type": "quantitative"}}},
      {"transform": [{"filter": "isValid(datum.peak)"}], "mark": "text", "encoding": {"x": {"field": "peak", "type": "quantitative"}, "y": {"datum": 0.2}, "text": {"field": "label"}}}
    ]},
    {"title": "filter = 7", "transform": [{"filter": "datum.filter == 7"}], "layer": [
      {"transform": [{"filter": "isValid(datum.w)"}], "mark": "line", "encoding": {
        "x": {"field": "w", "type": "quantitative", "scale": {"domain": [400, 700], "nice": false, "zero": false}, "axis": {"values": [400, 450, 500, 550, 600, 650, 700], "labels": false, "title": null}},
        "y": {"field": "r", "type": "quantitative", "scale": {"domain": [-0.0135, 0.2845], "nice": false, "zero": false}, "axis": {"values": [0, 0.05, 0.1, 0.15, 0.2, 0.25], "labels": false, "title": null}},
        "color": {"field": "filter", "type": "nominal", "legend": {"title": "filter"}}}},
      {"transform": [{"filter": "isValid(datum.peak)"}], "mark": "rule", "encoding": {"x": {"field": "peak", "type": "quantitative"}}},
      {"transform": [{"filter": "isValid(datum.peak)"}], "mark": "text", "encoding": {"x": {"field": "peak", "type": "quantitative"}, "y": {"datum": 0.2}, "text": {"field": "label"}}}
    ]},
    {"title": "filter = 8", "transform": [{"filter": "datum.filter == 8"}], "layer": [
      {"transform": [{"filter": "isValid(datum.w)"}], "mark": "line", "encoding": {
        "x": {"field": "w", "type": "quantitative", "scale": {"domain": [400, 700], "nice": false, "zero": false}, "axis": {"values": [400, 450, 500, 550, 600, 650, 700], "labels": false, "title": null}},
        "y": {"field": "r", "type": "quantitative", "scale": {"domain": [-0.0135, 0.2845], "nice": false, "zero": false}, "axis": {"values": [0, 0.05, 0.1, 0.15, 0.2, 0.25], "labels": false, "title": null}},
        "color": {"field": "filter", "type": "nominal", "legend": {"title": "filter"}}}},
      {"transform": [{"filter": "isValid(datum.peak)"}], "mark": "rule", "encoding": {"x": {"field": "peak", "type": "quantitative"}}},
      {"transform": [{"filter": "isValid(datum.peak)"}], "mark": "text", "encoding": {"x": {"field": "peak", "type": "quantitative"}, "y": {"datum": 0.2}, "text": {"field": "label"}}}
    ]},
    {"title": "filter = 9", "transform": [{"filter": "datum.filter == 9"}], "layer": [
      {"transform": [{"filter": "isValid(datum.w)"}], "mark": "line", "encoding": {
        "x": {"field": "w", "type": "quantitative", "scale": {"domain": [400, 700], "nice": false, "zero": false}, "axis": {"values": [400, 450, 500, 550, 600, 650, 700], "labels": false, "title": null}},
        "y": {"field": "r", "type": "quantitative", "scale": {"domain": [-0.0135, 0.2845], "nice": false, "zero": false}, "axis": {"values": [0, 0.05, 0.1, 0.15, 0.2, 0.25], "format": ".2f", "title": "Filter response [a.u.]"}},
        "color": {"field": "filter", "type": "nominal", "legend": {"title": "filter"}}}},
      {"transform": [{"filter": "isValid(datum.peak)"}], "mark": "rule", "encoding": {"x": {"field": "peak", "type": "quantitative"}}},
      {"transform": [{"filter": "isValid(datum.peak)"}], "mark": "text", "encoding": {"x": {"field": "peak", "type": "quantitative"}, "y": {"datum": 0.2}, "text": {"field": "label"}}}
    ]},
    {"title": "filter = 10", "transform": [{"filter": "datum.filter == 10"}], "layer": [
      {"transform": [{"filter": "isValid(datum.w)"}], "mark": "line", "encoding": {
        "x": {"field": "w", "type": "quantitative", "scale": {"domain": [400, 700], "nice": false, "zero": false}, "axis": {"values": [400, 450, 500, 550, 600, 650, 700], "labels": false, "title": null}},
        "y": {"field": "r", "type": "quantitative", "scale": {"domain": [-0.0135, 0.2845], "nice": false, "zero": false}, "axis": {"values": [0, 0.05, 0.1, 0.15, 0.2, 0.25], "labels": false, "title": null}},
        "color": {"field": "filter", "type": "nominal", "legend": {"title": "filter"}}}},
      {"transform": [{"filter": "isValid(datum.peak)"}], "mark": "rule", "encoding": {"x": {"field": "peak", "type": "quantitative"}}},
      {"transform": [{"filter": "isValid(datum.peak)"}], "mark": "text", "encoding": {"x": {"field": "peak", "type": "quantitative"}, "y": {"datum": 0.2}, "text": {"field": "label"}}}
    ]},
    {"title": "filter = 11", "transform": [{"filter": "datum.filter == 11"}], "layer": [
      {"transform": [{"filter": "isValid(datum.w)"}], "mark": "line", "encoding": {
        "x": {"field": "w", "type": "quantitative", "scale": {"domain": [400, 700], "nice": false, "zero": false}, "axis": {"values": [400, 450, 500, 550, 600, 650, 700], "labels": false, "title": null}},
        "y": {"field": "r", "type": "quantitative", "scale": {"domain": [-0.0135, 0.2845], "nice": false, "zero": false}, "axis": {"values": [0, 0.05, 0.1, 0.15, 0.2, 0.25], "labels": false, "title": null}},
        "color": {"field": "filter", "type": "nominal", "legend": {"title": "filter"}}}},
      {"transform": [{"filter": "isValid(datum.peak)"}], "mark": "rule", "encoding": {"x": {"field": "peak", "type": "quantitative"}}},
      {"transform": [{"filter": "isValid(datum.peak)"}], "mark": "text", "encoding": {"x": {"field": "peak", "type": "quantitative"}, "y": {"datum": 0.2}, "text": {"field": "label"}}}
    ]},
    {"title": "filter = 12", "transform": [{"filter": "datum.filter == 12"}], "layer": [
      {"transform": [{"filter": "isValid(datum.w)"}], "mark": "line", "encoding": {
        "x": {"field": "w", "type": "quantitative", "scale": {"domain": [400, 700], "nice": false, "zero": false}, "axis": {"values": [400, 450, 500, 550, 600, 650, 700], "labels": false, "title": null}},
        "y": {"field": "r", "type": "quantitative", "scale": {"domain": [-0.0135, 0.2845], "nice": false, "zero": false}, "axis": {"values": [0, 0.05, 0.1, 0.15, 0.2, 0.25], "labels": false, "title": null}},
        "color": {"field": "filter", "type": "nominal", "legend": {"title": "filter"}}}},
      {"transform": [{"filter": "isValid(datum.peak)"}], "mark": "rule", "encoding": {"x": {"field": "peak", "type": "quantitative"}}},
      {"transform": [{"filter": "isValid(datum.peak)"}], "mark": "text", "encoding": {"x": {"field": "peak", "type": "quantitative"}, "y": {"datum": 0.2}, "text": {"field": "label"}}}
    ]},
    {"title": "filter = 13", "transform": [{"filter": "datum.filter == 13"}], "layer": [
      {"transform": [{"filter": "isValid(datum.w)"}], "mark": "line", "encoding": {
        "x": {"field": "w", "type": "quantitative", "scale": {"domain": [400, 700], "nice": false, "zero": false}, "axis": {"values": [400, 450, 500, 550, 600, 650, 700], "title": "Wavelength [nm]"}},
        "y": {"field": "r", "type": "quantitative", "scale": {"domain": [-0.0135, 0.2845], "nice": false, "zero": false}, "axis": {"values": [0, 0.05, 0.1, 0.15, 0.2, 0.25], "format": ".2f", "title": "Filter response [a.u.]"}},
        "color": {"field": "filter", "type": "nominal", "legend": {"title": "filter"}}}},
      {"transform": [{"filter": "isValid(datum.peak)"}], "mark": "rule", "encoding": {"x": {"field": "peak", "type": "quantitative"}}},
      {"transform": [{"filter": "isValid(datum.peak)"}], "mark": "text", "encoding": {"x": {"field": "peak", "type": "quantitative"}, "y": {"datum": 0.2}, "text": {"field": "label"}}}
    ]},
    {"title": "filter = 14", "transform": [{"filter": "datum.filter == 14"}], "layer": [
      {"transform": [{"filter": "isValid(datum.w)"}], "mark": "line", "encoding": {
        "x": {"field": "w", "type": "quantitative", "scale": {"domain": [400, 700], "nice": false, "zero": false}, "axis": {"values": [400, 450, 500, 550, 600, 650, 700], "title": "Wavelength [nm]"}},
        "y": {"field": "r", "type": "quantitative", "scale": {"domain": [-0.0135, 0.2845], "nice": false, "zero": false}, "axis": {"values": [0, 0.05, 0.1, 0.15, 0.2, 0.25], "labels": false, "title": null}},
        "color": {"field": "filter", "type": "nominal", "legend": {"title": "filter"}}}},
      {"transform": [{"filter": "isValid(datum.peak)"}], "mark": "rule", "encoding": {"x": {"field": "peak", "type": "quantitative"}}},
      {"transform": [{"filter": "isValid(datum.peak)"}], "mark": "text", "encoding": {"x": {"field": "peak", "type": "quantitative"}, "y": {"datum": 0.2}, "text": {"field": "label"}}}
    ]},
    {"title": "filter = 15", "transform": [{"filter": "datum.filter == 15"}], "layer": [
      {"transform": [{"filter": "isValid(datum.w)"}], "mark": "line", "encoding": {
        "x": {"field": "w", "type": "quantitative", "scale": {"domain": [400, 700], "nice": false, "zero": false}, "axis": {"values": [400, 450, 500, 550, 600, 650, 700], "title": "Wavelength [nm]"}},
        "y": {"field": "r", "type": "quantitative", "scale": {"domain": [-0.0135, 0.2845], "nice": false, "zero": false}, "axis": {"values": [0, 0.05, 0.1, 0.15, 0.2, 0.25], "labels": false, "title": null}},
        "color": {"field": "filter", "type": "nominal", "legend": {"title": "filter"}}}},
      {"transform": [{"filter": "isValid(datum.peak)"}], "mark": "rule", "encoding": {"x": {"field": "peak", "type": "quantitative"}}},
      {"transform": [{"filter": "isValid(datum.peak)"}], "mark": "text", "encoding": {"x": {"field": "peak", "type": "quantitative"}, "y": {"datum": 0.2}, "text": {"field": "label"}}}
    ]},
    {"title": "filter = 16", "transform": [{"filter": "datum.filter == 16"}], "layer": [
      {"transform": [{"filter": "isValid(datum.w)"}], "mark": "line", "encoding": {
        "x": {"field": "w", "type": "quantitative", "scale": {"domain": [400, 700], "nice": false, "zero": false}, "axis": {"values": [400, 450, 500, 550, 600, 650, 700], "title": "Wavelength [nm]"}},
        "y": {"field": "r", "type": "quantitative", "scale": {"domain": [-0.0135, 0.2845], "nice": false, "zero": false}, "axis": {"values": [0, 0.05, 0.1, 0.15, 0.2, 0.25], "labels": false, "title": null}},
        "color": {"field": "filter", "type": "nominal", "legend": {"title": "filter"}}}},
      {"transform": [{"filter": "isValid(datum.peak)"}], "mark": "rule", "encoding": {"x": {"field": "peak", "type": "quantitative"}}},
      {"transform": [{"filter": "isValid(datum.peak)"}], "mark": "text", "encoding": {"x": {"field": "peak", "type": "quantitative"}, "y": {"datum": 0.2}, "text": {"field": "label"}}}
    ]}
  ],
  "config": {
    "font": "DejaVu Sans",
    "view": {"continuousWidth": 431, "continuousHeight": 420, "stroke": "black", "strokeWidth": 2},
    "line": {"strokeWidth": 5, "interpolate": "monotone"},
    "rule": {"color": "#b2b2b2", "strokeWidth": 4, "strokeDash": [10, 5]},
    "text": {"align": "left", "baseline": "alphabetic", "dx": 16, "fontSize": 24, "color": "black"},
    "axis": {"grid": false, "domain": false, "tickColor": "black", "tickWidth": 2, "tickSize": 12, "labelFontSize": 21.5, "labelColor": "black", "labelPadding": 8.5, "labelFlush": false, "labelOverlap": false, "titleFontSize": 24, "titleFontWeight": "normal", "titleColor": "black"},
    "axisY": {"titlePadding": 6},
    "axisX": {"titlePadding": 4},
    "title": {"fontSize": 24, "fontWeight": "normal", "color": "black", "offset": 2.5, "baseline": "alphabetic", "anchor": "middle"},
    "legend": {"orient": "none", "legendX": 1905, "legendY": 656, "padding": 0, "titleFontSize": 24, "titleFontWeight": "normal", "titleColor": "black", "titleAnchor": "middle", "titlePadding": 8.5, "labelFontSize": 21.5, "labelColor": "black", "labelOffset": 24, "rowPadding": 6.5, "symbolType": "M-1.6,0H1.6", "symbolSize": 900, "symbolStrokeWidth": 4}
  }
}
